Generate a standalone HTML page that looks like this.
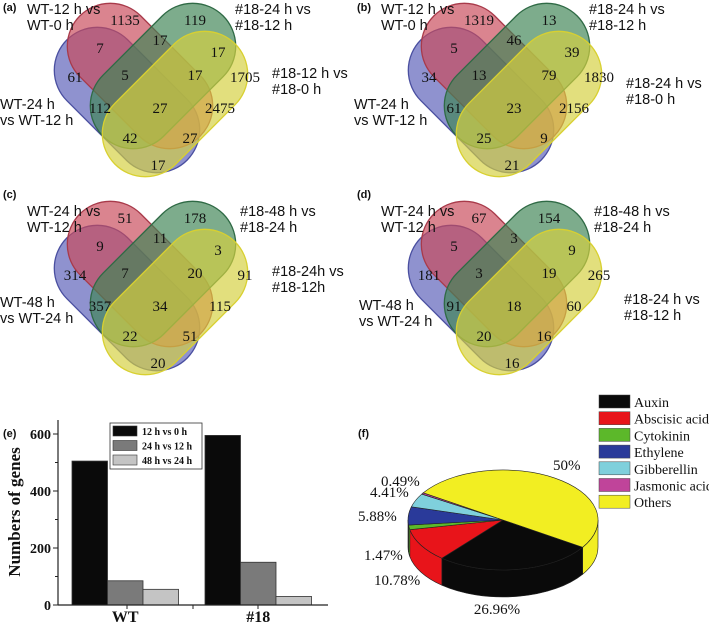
<!DOCTYPE html>
<html><head><meta charset="utf-8"><style>
html,body{margin:0;padding:0;background:#fff}
svg{display:block}
.sans{font-family:"Liberation Sans",sans-serif;font-size:14.5px;fill:#111}
.num{font-family:"Liberation Serif",serif;font-size:15px;fill:#111;text-anchor:middle}
.pl{font-family:"Liberation Sans",sans-serif;font-size:11px;font-weight:bold;fill:#111}
.ser{font-family:"Liberation Serif",serif;fill:#111}
</style></head><body>
<svg width="709" height="625" viewBox="0 0 709 625">
<g id="venns"></g>
<g id="bars"></g>
<g id="pie"></g>
</svg>
<script>
const NS="http://www.w3.org/2000/svg";
function mk(parent,tag,attrs,txt){const e=document.createElementNS(NS,tag);for(const k in attrs)e.setAttribute(k,attrs[k]);if(txt!==undefined)e.textContent=txt;parent.appendChild(e);return e;}

// ---------- Venn data ----------
const vennOffsets=[[0,0],[354,0],[0,198],[354,198]];
const vennLetters=["(a)","(b)","(c)","(d)"];
const vennCounts=[
 [1135,119,7,17,17,61,5,17,1705,112,27,2475,42,27,17],
 [1319,13,5,46,39,34,13,79,1830,61,23,2156,25,9,21],
 [51,178,9,11,3,314,7,20,91,357,34,115,22,51,20],
 [67,154,5,3,9,181,3,19,265,91,18,60,20,16,16]];
const vennLabels=[
 [["WT-12 h vs","WT-0 h"],["#18-24 h vs","#18-12 h"],["#18-12 h vs","#18-0 h"],["WT-24 h","vs WT-12 h"]],
 [["WT-12  h vs","WT-0  h"],["#18-24 h vs","#18-12 h"],["#18-24 h vs","#18-0 h"],["WT-24  h","vs WT-12  h"]],
 [["WT-24 h vs","WT-12 h"],["#18-48 h vs","#18-24 h"],["#18-24h vs","#18-12h"],["WT-48 h","vs WT-24 h"]],
 [["WT-24 h vs","WT-12 h"],["#18-48 h vs","#18-24 h"],["#18-24 h vs","#18-12 h"],["WT-48 h","vs WT-24 h"]]];
const numPos=[[125,25],[195,25],[100,53],[160,45],[218,57],[75,82],[125,80],[195,80],[245,82],[100,113],[160,113],[220,113],[130,143],[190,143],[158,170]];
const capsules=[
 {name:"blue-set",cx:127,cy:100,rot:45,fill:"#5a5fb8",stroke:"#4a4fa0"},
 {name:"red-set",cx:140,cy:76,rot:45,fill:"#c84a5a",stroke:"#a83a4a"},
 {name:"green-set",cx:163,cy:76,rot:-45,fill:"#3f8455",stroke:"#2f6a45"},
 {name:"yellow-set",cx:175,cy:104,rot:-45,fill:"#d4d040",stroke:"#d8d030"}];
const L=170,T=86;
const vg=document.getElementById('venns');
vennOffsets.forEach((o,i)=>{
 const g=mk(vg,'g',{transform:`translate(${o[0]},${o[1]})`});
 
 
 capsules.forEach(c=>{
  const r=mk(g,'rect',{x:c.cx-L/2,y:c.cy-T/2,width:L,height:T,rx:T/2,ry:T/2,fill:c.fill,'fill-opacity':0.68,stroke:c.stroke,'stroke-width':1.3,transform:`rotate(${c.rot} ${c.cx} ${c.cy})`});
  
  
 });
 vennCounts[i].forEach((v,j)=>{
  const t=mk(g,'text',{x:numPos[j][0],y:numPos[j][1],class:'num'},String(v));
  
  
 });
 const lb=vennLabels[i];
 const lp=[[27,14],[235,14],[272,78],[0,109]];
 if(i===2||i===3){lp[0]=[27,18];lp[1]=[240,18];}
 if(i===3){lp[2]=[270,106];lp[3]=[5,112];}
 if(i===1){lp[2]=[272,88];}
 lb.forEach((pair,k)=>{
  const t=mk(g,'text',{x:lp[k][0],y:lp[k][1],class:'sans'});
  
  
  mk(t,'tspan',{x:lp[k][0],dy:0},pair[0]);
  mk(t,'tspan',{x:lp[k][0],dy:16},pair[1]);
 });
 const pl=mk(g,'text',{x:3,y:i>=2?0:11,class:'pl'},vennLetters[i]);
 
 
});

// ---------- Bar chart (e) ----------
const barGroups=["WT","#18"];
const seriesNames=["12 h vs 0 h","24 h vs 12 h","48 h vs 24 h"];
const series12v0=[505,595];
const series24v12=[85,150];
const series48v24=[55,30];
const yTicks=[0,200,400,600];
const allSeries=[series12v0,series24v12,series48v24];
const barColors=["#0a0a0a","#7a7a7a","#c4c4c4"];
const bx0=58,bx1=328,by0=605,byTop=420;
const yS=v=>by0-v*(605-434)/600;
const groupStart=[72,205],bw=35.5;
const bg=document.getElementById('bars');
mk(bg,'text',{x:3,y:437,class:'pl'},"(e)");
allSeries.forEach((s,si)=>{
 s.forEach((v,gi)=>{
  const r=mk(bg,'rect',{x:groupStart[gi]+si*bw,y:yS(v),width:bw,height:by0-yS(v),fill:barColors[si],stroke:'#333','stroke-width':0.8});
  
  
 });
});
mk(bg,'line',{x1:bx0,y1:by0,x2:bx1,y2:by0,stroke:'#222','stroke-width':1.2});
mk(bg,'line',{x1:bx0,y1:by0,x2:bx0,y2:byTop,stroke:'#222','stroke-width':1.2});
yTicks.forEach(t=>{
 mk(bg,'line',{x1:bx0-5,y1:yS(t),x2:bx0,y2:yS(t),stroke:'#222'});
 const tx=mk(bg,'text',{x:bx0-7,y:yS(t)+5,class:'ser','font-size':14,'font-weight':'bold','text-anchor':'end'},String(t));
 
 
});
for(let t=100;t<=600;t+=200){mk(bg,'line',{x1:bx0-3,y1:yS(t),x2:bx0,y2:yS(t),stroke:'#222'});}
[127,193,258].forEach(x=>mk(bg,'line',{x1:x,y1:by0,x2:x,y2:by0+4,stroke:'#222'}));
barGroups.forEach((g,gi)=>{
 const t=mk(bg,'text',{x:groupStart[gi]+1.5*bw,y:622,class:'ser','font-size':16,'font-weight':'bold','text-anchor':'middle'},g);
 
 
});
const yl=mk(bg,'text',{x:20,y:512,class:'ser','font-size':17,'font-weight':'bold','text-anchor':'middle',transform:'rotate(-90 20 512)'},"Numbers of genes");


const lg=mk(bg,'g',{});


mk(lg,'rect',{x:110,y:423,width:92,height:46,fill:'#fff',stroke:'#333','stroke-width':0.8});
seriesNames.forEach((n,i)=>{
 mk(lg,'rect',{x:113,y:426+i*14.5,width:24,height:10,fill:barColors[i],stroke:'#333','stroke-width':0.6});
 const t=mk(lg,'text',{x:142,y:435+i*14.5,class:'ser','font-size':10,'font-weight':'bold'},n);
 
 
});

// ---------- Pie (f) ----------
const pieCats=["Auxin","Abscisic acid","Cytokinin","Ethylene","Gibberellin","Jasmonic acid","Others"];
const pieVals=[26.96,10.78,1.47,5.88,4.41,0.49,50];
const pieLabels=["26.96%","10.78%","1.47%","5.88%","4.41%","0.49%","50%"];
const pieColors=["#0a0a0a","#e8141a","#5cb82a","#2a3a9a","#7fd0dc","#c0449a","#f2ee22"];
const labelPos=[[497,614],[374,585],[364,560],[358,521],[370,497],[381,486],[553,470]];
const cx=503,cy=520,rx=95,ry=50,dep=27,startA=33;
const pg=document.getElementById('pie');
mk(pg,'text',{x:358,y:437,class:'pl'},"(f)");
const P=(a,d)=>[cx+rx*Math.cos(a*Math.PI/180),cy+ry*Math.sin(a*Math.PI/180)+(d||0)];
const total=pieVals.reduce((a,b)=>a+b,0);
let ang=startA;const spans=[];
pieVals.forEach(v=>{const a2=ang+v/total*360;spans.push([ang,a2]);ang=a2;});
spans.forEach((sp,i)=>{
 for(const off of [0,360]){
  let a1=Math.max(sp[0]-off,0),a2=Math.min(sp[1]-off,180);
  if(a2<=a1)continue;
  const p1=P(a1),p2=P(a2),q2=P(a2,dep),q1=P(a1,dep);
  const d=`M${p1} A${rx} ${ry} 0 0 1 ${p2} L${q2} A${rx} ${ry} 0 0 0 ${q1} Z`;
  const s=mk(pg,'path',{d,fill:pieColors[i],stroke:'#222','stroke-width':0.6});
  
  
 }
});
spans.forEach((sp,i)=>{
 const p1=P(sp[0]),p2=P(sp[1]);
 const large=(sp[1]-sp[0])>180?1:0;
 const s=mk(pg,'path',{d:`M${cx},${cy} L${p1} A${rx} ${ry} 0 ${large} 1 ${p2} Z`,fill:pieColors[i],stroke:'#222','stroke-width':0.6});
 
 
});
pieLabels.forEach((l,i)=>{
 const t=mk(pg,'text',{x:labelPos[i][0],y:labelPos[i][1],class:'ser','font-size':15,'text-anchor':i===0?'middle':'start'},l);
 
 
});
pieCats.forEach((c,i)=>{
 const y=406+i*16.7;
 const sw=mk(pg,'rect',{x:599,y:y-11,width:31,height:13,fill:pieColors[i],stroke:'#444','stroke-width':0.5});
 
 
 const t=mk(pg,'text',{x:634,y:y+1,class:'ser','font-size':14},c);
 
 
});
</script>
</body></html>
